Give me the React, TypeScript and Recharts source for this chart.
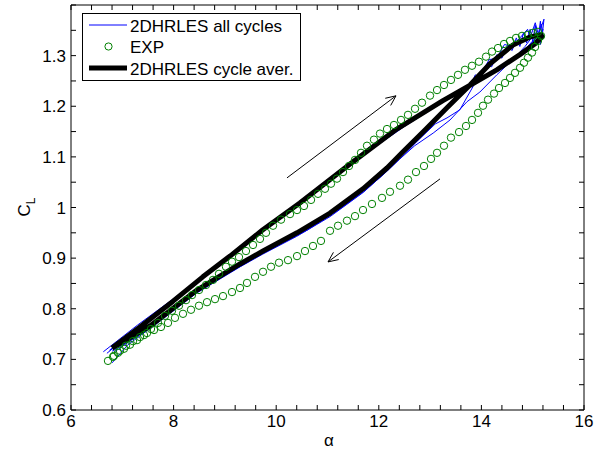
import React from 'react';
import { ComposedChart, Line, XAxis, YAxis, Legend, ReferenceLine } from 'recharts';

const FONT = '"Liberation Sans", Arial, Helvetica, sans-serif';

// tick values
const xTicks = [6, 6.4, 6.8, 7.2, 7.6, 8, 8.4, 8.8, 9.2, 9.6, 10, 10.4, 10.8, 11.2, 11.6, 12, 12.4, 12.8, 13.2, 13.6, 14, 14.4, 14.8, 15.2, 15.6, 16];
const xTickLabels = [6, 8, 10, 12, 14, 16];
const yTicks = [0.6, 0.65, 0.7, 0.75, 0.8, 0.85, 0.9, 0.95, 1, 1.05, 1.1, 1.15, 1.2, 1.25, 1.3, 1.35, 1.4];
const yTickLabels = [0.6, 0.7, 0.8, 0.9, 1, 1.1, 1.2, 1.3];

// 2DHRLES all cycles (alpha, CL)
const blueCycle1: [number, number][] = [
  [6.63, 0.715], [7.3, 0.768], [8.0, 0.82], [8.6, 0.868], [9.2, 0.915], [9.8, 0.962], [10.5, 1.015], [11.2, 1.068], [11.9, 1.122], [12.5, 1.163], [13.1, 1.2], [13.7, 1.238], [14.3, 1.273], [14.7, 1.301], [14.95, 1.322], [15.1, 1.338],
  [15.22, 1.372], [15.18, 1.335], [15.15, 1.368], [15.1, 1.33], [15.05, 1.36], [15.0, 1.328], [14.95, 1.352], [14.88, 1.325], [14.82, 1.345], [14.75, 1.318], [14.68, 1.335], [14.6, 1.31], [14.5, 1.318], [14.4, 1.295], [14.3, 1.302], [14.2, 1.278], [14.1, 1.282], [13.98, 1.258], [13.88, 1.262], [13.78, 1.238], [13.65, 1.232], [13.45, 1.208], [13.2, 1.18], [12.9, 1.147], [12.5, 1.105], [12.15, 1.071], [11.7, 1.03], [11.05, 0.982], [10.4, 0.943], [9.74, 0.908], [9.3, 0.883], [8.45, 0.831], [7.55, 0.761], [6.8, 0.716],
];
const blueCycle2: [number, number][] = [
  [6.7, 0.712], [7.4, 0.77], [8.1, 0.825], [9.0, 0.895], [10.0, 0.975], [11.0, 1.053], [12.0, 1.13], [12.8, 1.18], [13.5, 1.225], [14.2, 1.268], [14.8, 1.307], [15.1, 1.34], [15.17, 1.362], [15.2, 1.34],
  [15.05, 1.345], [14.85, 1.318], [14.65, 1.296], [14.3, 1.262], [13.97, 1.228], [13.72, 1.209], [13.39, 1.173], [13.06, 1.147], [12.7, 1.122], [12.4, 1.095], [12.1, 1.066], [11.7, 1.031], [11.2, 0.994], [10.6, 0.955], [9.9, 0.918], [9.3, 0.887], [8.45, 0.834], [7.55, 0.762], [7.1, 0.728], [6.8, 0.693],
];
const blueCycle3: [number, number][] = [
  [6.75, 0.718], [7.5, 0.779], [8.5, 0.858], [9.5, 0.937], [10.5, 1.012], [11.5, 1.09], [12.5, 1.16], [13.3, 1.212], [13.8, 1.24], [14.3, 1.27], [14.7, 1.298], [15.0, 1.325], [15.12, 1.345], [15.15, 1.322], [15.2, 1.352],
  [15.12, 1.338], [15.05, 1.365], [14.95, 1.335], [14.9, 1.352], [14.75, 1.335], [14.6, 1.318], [14.45, 1.322], [14.3, 1.295], [14.15, 1.292], [14.0, 1.265], [13.91, 1.252], [13.58, 1.193], [13.33, 1.177], [13.1, 1.165], [12.8, 1.136], [12.45, 1.104], [12.0, 1.06], [11.5, 1.017], [11.0, 0.982], [10.5, 0.951], [9.8, 0.913], [9.0, 0.866], [8.3, 0.823], [7.6, 0.768], [6.85, 0.715],
];

// EXP (alpha, CL)
const expUp: [number, number][] = [
  [6.721, 0.697], [6.819, 0.705], [6.916, 0.713], [7.033, 0.721], [7.15, 0.729], [7.287, 0.738], [7.423, 0.748], [7.559, 0.76], [7.696, 0.772], [7.832, 0.786], [7.969, 0.796], [8.105, 0.806], [8.242, 0.817], [8.359, 0.827], [8.495, 0.837], [8.632, 0.847], [8.768, 0.857], [8.885, 0.869], [9.021, 0.883], [9.138, 0.893], [9.275, 0.902], [9.411, 0.914], [9.548, 0.926], [9.684, 0.938], [9.801, 0.95], [9.938, 0.964], [10.094, 0.976], [10.269, 0.987], [10.406, 0.995], [10.542, 1.003], [10.679, 1.015], [10.815, 1.027], [10.951, 1.037], [11.068, 1.047], [11.185, 1.057], [11.302, 1.07], [11.419, 1.082], [11.536, 1.094], [11.653, 1.108], [11.77, 1.122], [11.906, 1.134], [12.023, 1.146], [12.16, 1.155], [12.296, 1.163], [12.433, 1.173], [12.569, 1.183], [12.706, 1.195], [12.842, 1.207], [12.998, 1.221], [13.135, 1.232], [13.271, 1.242], [13.407, 1.252], [13.544, 1.262], [13.68, 1.272], [13.817, 1.28], [13.953, 1.288], [14.09, 1.298], [14.207, 1.308], [14.324, 1.315], [14.441, 1.323], [14.558, 1.329], [14.675, 1.335], [14.791, 1.339], [14.908, 1.341], [15.006, 1.345], [15.103, 1.347],
];
const expDown: [number, number][] = [
  [15.162, 1.339], [15.103, 1.329], [15.045, 1.317], [14.986, 1.306], [14.908, 1.296], [14.83, 1.286], [14.753, 1.276], [14.655, 1.266], [14.558, 1.256], [14.46, 1.246], [14.343, 1.236], [14.246, 1.225], [14.129, 1.213], [14.031, 1.201], [13.934, 1.187], [13.817, 1.173], [13.7, 1.161], [13.564, 1.149], [13.407, 1.138], [13.271, 1.122], [13.135, 1.108], [13.018, 1.096], [12.881, 1.082], [12.725, 1.07], [12.569, 1.055], [12.413, 1.043], [12.218, 1.031], [12.062, 1.019], [11.867, 1.007], [11.692, 0.995], [11.536, 0.983], [11.38, 0.974], [11.205, 0.964], [11.049, 0.954], [10.873, 0.934], [10.717, 0.924], [10.561, 0.914], [10.406, 0.904], [10.23, 0.896], [10.055, 0.891], [9.899, 0.883], [9.743, 0.873], [9.587, 0.863], [9.431, 0.851], [9.294, 0.841], [9.138, 0.833], [8.963, 0.825], [8.807, 0.819], [8.651, 0.813], [8.495, 0.806], [8.339, 0.798], [8.183, 0.79], [8.027, 0.782], [7.891, 0.772], [7.754, 0.764], [7.618, 0.758], [7.481, 0.752], [7.345, 0.744], [7.209, 0.736], [7.072, 0.727], [6.955, 0.717], [6.838, 0.707],
];

// 2DHRLES cycle average (alpha, CL)
const averageCycle: [number, number][] = [
  [6.8, 0.7225], [7.345, 0.764], [7.99, 0.815], [8.57, 0.863], [9.1, 0.904], [9.74, 0.956], [10.46, 1.009], [11.44, 1.086], [12.35, 1.155], [13.25, 1.211], [13.72, 1.238], [14.3, 1.272], [14.75, 1.302], [15.04, 1.323], [15.18, 1.337],
  [15.162, 1.341], [14.947, 1.337], [14.616, 1.321], [14.168, 1.284], [13.778, 1.242], [13.329, 1.197], [12.901, 1.153], [12.472, 1.11], [12.16, 1.078], [11.692, 1.037], [11.049, 0.989], [10.405, 0.95], [9.743, 0.914], [9.294, 0.8885], [8.456, 0.837], [7.54, 0.766], [6.8, 0.7225],
];

// direction arrows (alpha, CL)
const arrowUp: [number, number][] = [[10.21, 1.0585], [12.335, 1.2206]];
const arrowDown: [number, number][] = [[13.193, 1.0565], [11.01, 0.8925]];

const toPts = (arr: [number, number][]) => arr.map(([a, c]) => ({ a, c }));

const fmtX = (v: number) => {
  const hit = xTickLabels.find((t) => Math.abs(t - v) < 1e-6);
  return hit !== undefined ? String(hit) : '';
};
const fmtY = (v: number) => {
  const hit = yTickLabels.find((t) => Math.abs(t - v) < 1e-6);
  return hit !== undefined ? String(hit) : '';
};

const ArrowShape = (props: any) => {
  const { x1, y1, x2, y2 } = props;
  const ang = Math.atan2(y2 - y1, x2 - x1);
  const L = 11;
  const s = 0.42;
  const hx1 = x2 - L * Math.cos(ang - s);
  const hy1 = y2 - L * Math.sin(ang - s);
  const hx2 = x2 - L * Math.cos(ang + s);
  const hy2 = y2 - L * Math.sin(ang + s);
  return (
    <g>
      <line x1={x1} y1={y1} x2={x2} y2={y2} stroke="#000" strokeWidth={1} />
      <polyline points={`${hx1},${hy1} ${x2},${y2} ${hx2},${hy2}`} fill="none" stroke="#000" strokeWidth={1} />
    </g>
  );
};

const LegendBox = () => (
  <svg width={219} height={68} style={{ display: 'block' }}>
    <rect x={0.5} y={0.5} width={218} height={67} fill="#fff" stroke="#000" strokeWidth={1} />
    <line x1={7} y1={12} x2={45} y2={12} stroke="#0000ff" strokeWidth={1} />
    <text x={48} y={19} fontFamily={FONT} fontSize={17} fill="#000">2DHRLES all cycles</text>
    <circle cx={26.5} cy={33.5} r={3.6} fill="none" stroke="#008000" strokeWidth={1} />
    <text x={48} y={40} fontFamily={FONT} fontSize={17} fill="#000">EXP</text>
    <line x1={7} y1={55} x2={45} y2={55} stroke="#000" strokeWidth={5} />
    <text x={48} y={62} fontFamily={FONT} fontSize={17} fill="#000">2DHRLES cycle aver.</text>
  </svg>
);

const YLabel = () => (
  <text transform="translate(30,207) rotate(-90)" textAnchor="middle" fontFamily={FONT} fontSize={17} fill="#000">
    C<tspan fontSize={12} dy={5}>L</tspan>
  </text>
);
const XLabel = () => (
  <text x={329} y={446} textAnchor="middle" fontFamily={FONT} fontSize={17} fill="#000">α</text>
);

const tickStyle = { fill: '#000', fontSize: 17, fontFamily: FONT };

export default function App() {
  return (
    <div style={{ position: 'absolute', left: 0, top: 0, width: 603, height: 452, background: '#fff' }}>
      <ComposedChart width={603} height={452} margin={{ top: 0, right: 9, bottom: 0, left: 11 }}>
        <XAxis
          xAxisId="bottom"
          type="number"
          dataKey="a"
          domain={[6, 16]}
          allowDataOverflow
          ticks={xTicks}
          interval={0}
          tickFormatter={fmtX}
          tickSize={-5}
          tickMargin={10}
          height={42}
          stroke="#000"
          tick={tickStyle}
          tickLine={{ stroke: '#000' }}
          axisLine={{ stroke: '#000' }}
          label={<XLabel />}
        />
        <XAxis
          xAxisId="top"
          orientation="top"
          type="number"
          dataKey="a"
          domain={[6, 16]}
          allowDataOverflow
          ticks={xTicks}
          interval={0}
          tickFormatter={() => ''}
          tickSize={-5}
          height={5}
          stroke="#000"
          tickLine={{ stroke: '#000' }}
          axisLine={{ stroke: '#000' }}
        />
        <YAxis
          yAxisId="left"
          type="number"
          dataKey="c"
          domain={[0.6, 1.4]}
          allowDataOverflow
          ticks={yTicks}
          interval={0}
          tickFormatter={fmtY}
          tickSize={-5}
          tickMargin={10}
          width={60}
          stroke="#000"
          tick={tickStyle}
          tickLine={{ stroke: '#000' }}
          axisLine={{ stroke: '#000' }}
          label={<YLabel />}
        />
        <YAxis
          yAxisId="right"
          orientation="right"
          type="number"
          dataKey="c"
          domain={[0.6, 1.4]}
          allowDataOverflow
          ticks={yTicks}
          interval={0}
          tickFormatter={() => ''}
          tickSize={-5}
          width={10}
          stroke="#000"
          tickLine={{ stroke: '#000' }}
          axisLine={{ stroke: '#000' }}
        />
        <Line xAxisId="bottom" yAxisId="left" data={toPts(blueCycle1)} dataKey="c" type="linear" stroke="#0000ff" strokeWidth={1} dot={false} activeDot={false} isAnimationActive={false} name="2DHRLES all cycles" />
        <Line xAxisId="bottom" yAxisId="left" data={toPts(blueCycle2)} dataKey="c" type="linear" stroke="#0000ff" strokeWidth={1} dot={false} activeDot={false} isAnimationActive={false} legendType="none" />
        <Line xAxisId="bottom" yAxisId="left" data={toPts(blueCycle3)} dataKey="c" type="linear" stroke="#0000ff" strokeWidth={1} dot={false} activeDot={false} isAnimationActive={false} legendType="none" />
        <Line xAxisId="bottom" yAxisId="left" data={toPts(expUp.concat(expDown))} dataKey="c" type="linear" stroke="none" dot={{ r: 3.7, stroke: '#008000', strokeWidth: 1, fill: 'none' }} activeDot={false} isAnimationActive={false} name="EXP" />
        <Line xAxisId="bottom" yAxisId="left" data={toPts(averageCycle)} dataKey="c" type="linear" stroke="#000" strokeWidth={5} strokeLinejoin="round" dot={false} activeDot={false} isAnimationActive={false} name="2DHRLES cycle aver." />
        <ReferenceLine xAxisId="bottom" yAxisId="left" segment={[{ x: arrowUp[0][0], y: arrowUp[0][1] }, { x: arrowUp[1][0], y: arrowUp[1][1] }]} shape={ArrowShape} />
        <ReferenceLine xAxisId="bottom" yAxisId="left" segment={[{ x: arrowDown[0][0], y: arrowDown[0][1] }, { x: arrowDown[1][0], y: arrowDown[1][1] }]} shape={ArrowShape} />
        <Legend
          layout="vertical"
          align="center"
          verticalAlign="middle"
          content={() => <LegendBox />}
          wrapperStyle={{ position: 'absolute', left: 82, top: 13, width: 219, height: 68 }}
        />
      </ComposedChart>
    </div>
  );
}
